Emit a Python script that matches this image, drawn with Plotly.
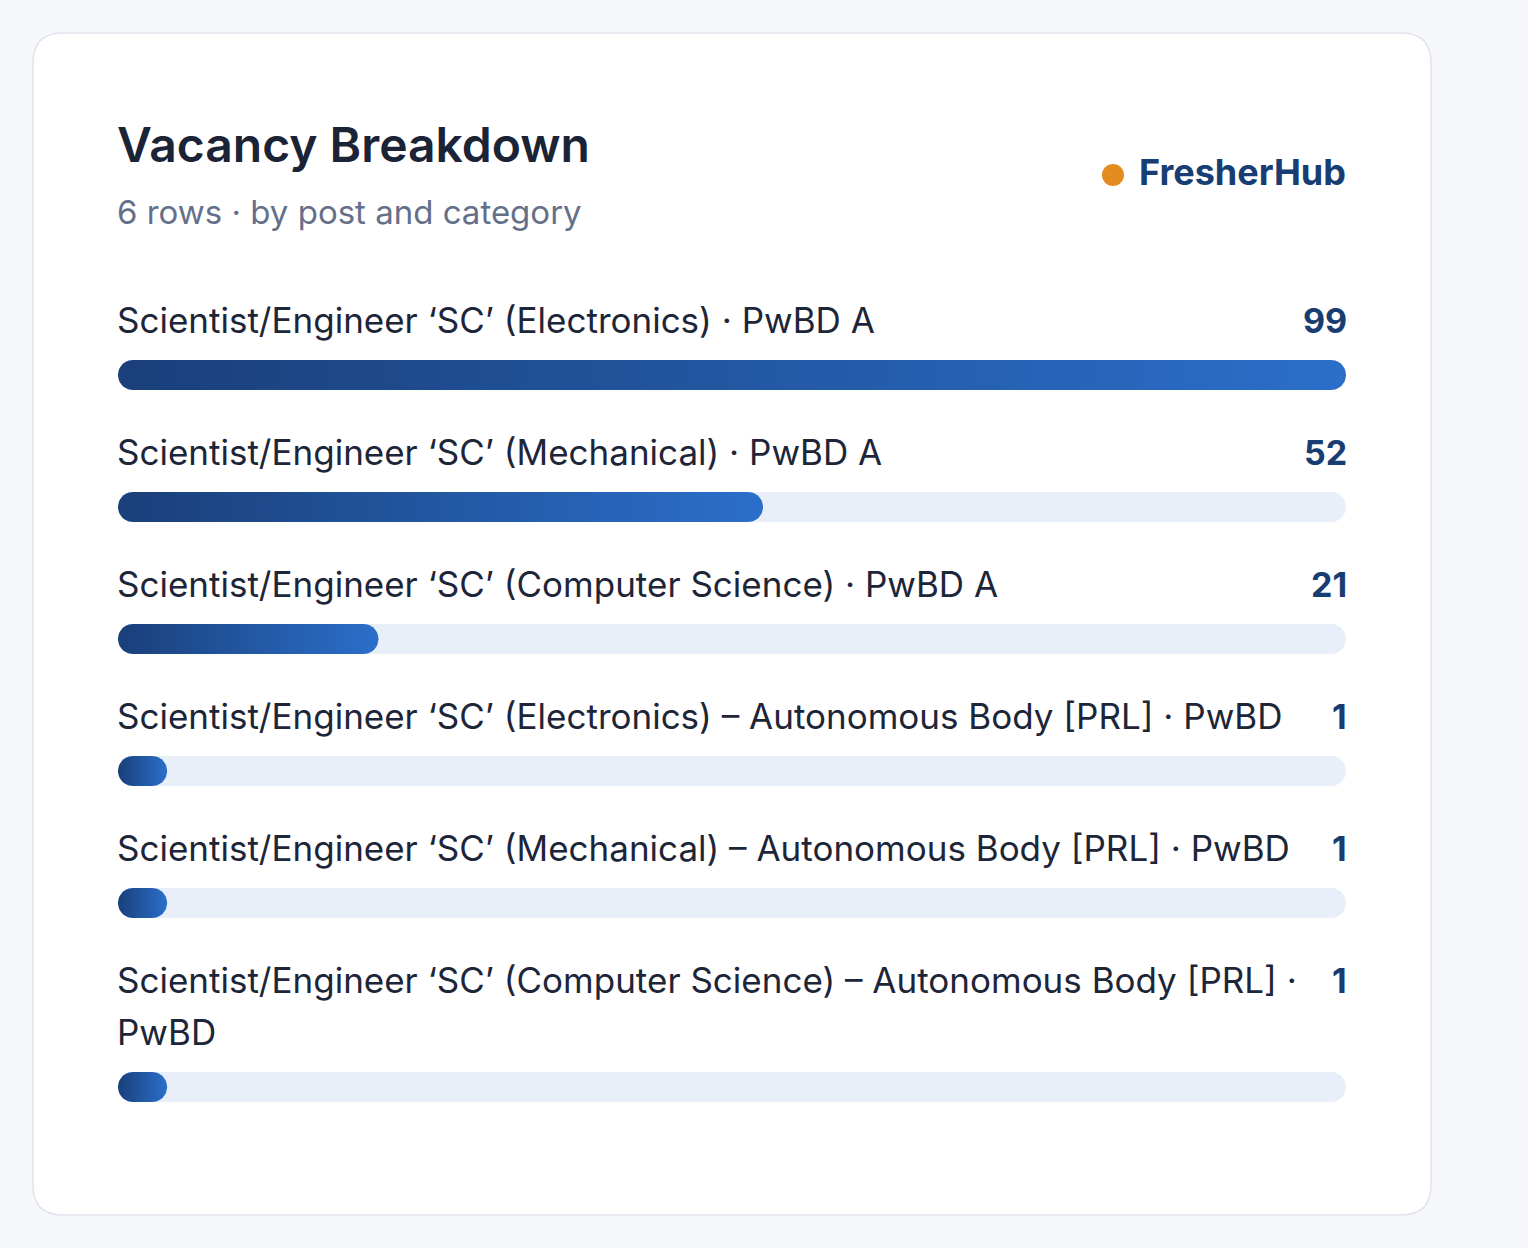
"""Vacancy breakdown card — horizontal gradient bars (Plotly)."""

import textwrap

import numpy as np
import plotly.graph_objects as go

# --- data -------------------------------------------------------------------
posts = [
    "Scientist/Engineer ‘SC’ (Electronics) · PwBD A",
    "Scientist/Engineer ‘SC’ (Mechanical) · PwBD A",
    "Scientist/Engineer ‘SC’ (Computer Science) · PwBD A",
    "Scientist/Engineer ‘SC’ (Electronics) – Autonomous Body [PRL] · PwBD",
    "Scientist/Engineer ‘SC’ (Mechanical) – Autonomous Body [PRL] · PwBD",
    "Scientist/Engineer ‘SC’ (Computer Science) – Autonomous Body [PRL] · PwBD",
]
vacancies = [99, 52, 21, 1, 1, 1]

title = "Vacancy Breakdown"
subtitle = f"{len(posts)} rows · by post and category"
brand = "FresherHub"

# --- layout constants (pixels) ---------------------------------------------
W, H = 1528, 1248
BG = "#f5f7fb"
CARD = (33, 33, 1431, 1215)
PLOT_L, PLOT_R = 118, 1346
FIRST_BAR = 375
ROW_STEP = 132
LINE_H = 52
BAR_H = 30
MIN_FRAC = 0.04
WRAP = 70

NAVY = "#173d73"
BAR_DARK = "#1a3f7a"
BAR_LIGHT = "#2b6fca"
TRACK = "#e8eff9"
TEXT = "#1d2538"
MUTED = "#64708a"
ORANGE = "#e28b1f"
FONT = "Inter"

vmax = max(vacancies)
x_per_px = vmax / (PLOT_R - PLOT_L)


def px(x):
    return x / W


def stadium(x0, x1, yc, h):
    """Closed outline of a pill from x0 to x1 (data units), centred on yc (px)."""
    r = h / 2
    rx = r * x_per_px
    t = np.linspace(-np.pi / 2, np.pi / 2, 24)
    xs = np.concatenate([x1 - rx + rx * np.cos(t), x0 + rx - rx * np.cos(t[::-1])])
    ys = np.concatenate([yc + r * np.sin(t), yc - r * np.sin(t)])
    xs = np.append(xs, xs[0])
    ys = np.append(ys, ys[0])
    return xs, ys


def rounded_rect(x0, y0, x1, y1, r):
    return (
        f"M {px(x0 + r)},{y0} L {px(x1 - r)},{y0} "
        f"Q {px(x1)},{y0} {px(x1)},{y0 + r} L {px(x1)},{y1 - r} "
        f"Q {px(x1)},{y1} {px(x1 - r)},{y1} L {px(x0 + r)},{y1} "
        f"Q {px(x0)},{y1} {px(x0)},{y1 - r} L {px(x0)},{y0 + r} "
        f"Q {px(x0)},{y0} {px(x0 + r)},{y0} Z"
    )


fig = go.Figure()
annotations = []

bar_y = FIRST_BAR
for i, (post, v) in enumerate(zip(posts, vacancies)):
    lines = textwrap.wrap(post, WRAP)
    if i:
        bar_y += ROW_STEP + LINE_H * (len(lines) - 1)
    label_y = bar_y - 55 - LINE_H * (len(lines) - 1)

    # track
    tx, ty = stadium(0, vmax, bar_y, BAR_H)
    fig.add_trace(go.Scatter(
        x=tx, y=ty, fill="toself", fillcolor=TRACK, mode="lines",
        line=dict(width=0), hoverinfo="skip", showlegend=False,
    ))
    # value bar
    shown = max(v, MIN_FRAC * vmax)
    bx, by = stadium(0, shown, bar_y, BAR_H)
    fig.add_trace(go.Scatter(
        x=bx, y=by, fill="toself", mode="lines", line=dict(width=0),
        fillgradient=dict(type="horizontal",
                          colorscale=[[0, BAR_DARK], [1, BAR_LIGHT]]),
        name=post, hovertemplate=f"{post}: {v}<extra></extra>", showlegend=False,
    ))

    for k, line in enumerate(lines):
        annotations.append(dict(
            x=px(PLOT_L - 3), xref="paper", y=label_y + k * LINE_H, yref="y",
            text=line, showarrow=False, xanchor="left", yanchor="middle",
            font=dict(family=FONT, size=35, color=TEXT),
        ))
    annotations.append(dict(
        x=px(PLOT_R + 3), xref="paper", y=label_y, yref="y",
        text=str(v), showarrow=False, xanchor="right", yanchor="middle",
        font=dict(family=FONT, size=34, color=NAVY, weight="bold"),
    ))

# header
annotations += [
    dict(x=px(PLOT_L - 3), xref="paper", y=144, yref="y", text=title,
         showarrow=False, xanchor="left", yanchor="middle",
         font=dict(family=FONT, size=48, color="#1b2336", weight=600)),
    dict(x=px(PLOT_L - 3), xref="paper", y=212, yref="y", text=subtitle,
         showarrow=False, xanchor="left", yanchor="middle",
         font=dict(family=FONT, size=33, color=MUTED)),
    dict(x=px(PLOT_R + 2), xref="paper", y=172, yref="y", text=brand,
         showarrow=False, xanchor="right", yanchor="middle",
         font=dict(family=FONT, size=36, color=NAVY, weight="bold")),
]

shapes = [
    dict(type="path", xref="paper", yref="y",
         path=rounded_rect(*CARD, 30), fillcolor="white",
         line=dict(color="#e1e4eb", width=1.5), layer="below"),
    dict(type="circle", xref="paper", yref="y",
         x0=px(1102), x1=px(1124), y0=164, y1=186,
         fillcolor=ORANGE, line=dict(width=0)),
]

fig.update_layout(
    width=W, height=H,
    margin=dict(l=0, r=0, t=0, b=0),
    paper_bgcolor=BG, plot_bgcolor="rgba(0,0,0,0)",
    xaxis=dict(range=[0, vmax], domain=[px(PLOT_L), px(PLOT_R)],
               visible=False, fixedrange=True),
    yaxis=dict(range=[H, 0], domain=[0, 1], visible=False, fixedrange=True),
    annotations=annotations, shapes=shapes,
    hoverlabel=dict(font=dict(family=FONT)),
)

fig.write_html(
    "out.html",
    config={"displayModeBar": False},
    post_script=f"document.body.style.margin='0';"
                f"document.body.style.background='{BG}';"
                f"document.body.style.overflow='hidden';",
)
